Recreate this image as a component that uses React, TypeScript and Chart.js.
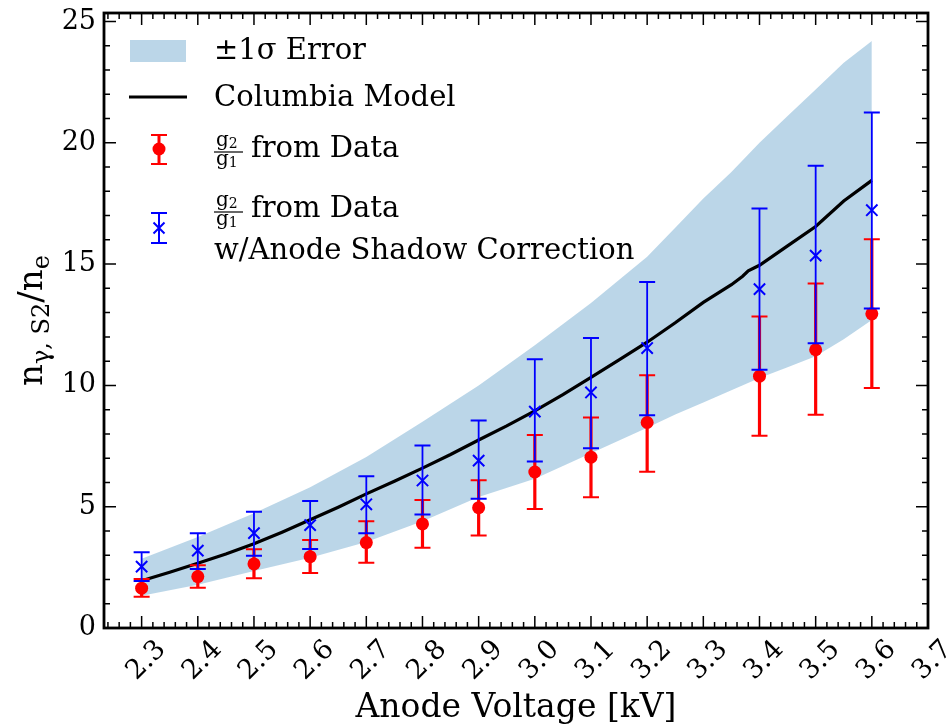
import React, { useEffect, useRef } from 'react';
import { Chart, registerables } from 'chart.js';

Chart.register(...registerables);

// ---------- data ----------
const pointX = [2.3, 2.4, 2.5, 2.6, 2.7, 2.8, 2.9, 3.0, 3.1, 3.2, 3.4, 3.5, 3.6];

const dataY = [1.64, 2.12, 2.64, 2.94, 3.52, 4.29, 4.96, 6.43, 7.04, 8.47, 10.38, 11.47, 12.95];
const dataLow = [1.29, 1.66, 2.05, 2.27, 2.69, 3.31, 3.81, 4.9, 5.39, 6.44, 7.92, 8.79, 9.89];
const dataHigh = [2.02, 2.59, 3.25, 3.63, 4.4, 5.28, 6.09, 7.96, 8.68, 10.42, 12.84, 14.2, 16.02];

const shadowY = [2.53, 3.19, 3.91, 4.24, 5.1, 6.08, 6.9, 8.92, 9.71, 11.54, 13.97, 15.35, 17.22];
const shadowLow = [1.94, 2.43, 2.98, 3.26, 3.91, 4.68, 5.33, 6.86, 7.41, 8.77, 10.64, 11.74, 13.17];
const shadowHigh = [3.12, 3.91, 4.79, 5.23, 6.26, 7.52, 8.55, 11.08, 11.95, 14.26, 17.29, 19.05, 21.25];

const modelX = [2.3, 2.35, 2.4, 2.45, 2.5, 2.55, 2.6, 2.65, 2.7, 2.75, 2.8, 2.85, 2.9, 2.95, 3.0, 3.05, 3.1, 3.15, 3.2, 3.25, 3.3, 3.35, 3.37, 3.38, 3.4, 3.45, 3.5, 3.55, 3.6];
const modelY = [1.95, 2.3, 2.67, 3.05, 3.47, 3.95, 4.46, 4.98, 5.53, 6.05, 6.59, 7.15, 7.75, 8.33, 8.95, 9.62, 10.33, 11.05, 11.78, 12.58, 13.42, 14.15, 14.5, 14.72, 14.95, 15.75, 16.55, 17.6, 18.45];

const bandX = [2.3, 2.4, 2.5, 2.6, 2.7, 2.8, 2.9, 3.0, 3.1, 3.2, 3.25, 3.3, 3.35, 3.4, 3.45, 3.5, 3.55, 3.6];
const bandUpper = [2.85, 3.75, 4.73, 5.8, 7.05, 8.5, 10.0, 11.65, 13.4, 15.3, 16.5, 17.7, 18.8, 20.0, 21.1, 22.2, 23.3, 24.2];
const bandLower = [1.33, 1.78, 2.35, 2.9, 3.55, 4.4, 5.4, 6.15, 7.2, 8.25, 8.8, 9.3, 9.8, 10.3, 10.75, 11.2, 11.9, 12.7];

const xTicks = [2.3, 2.4, 2.5, 2.6, 2.7, 2.8, 2.9, 3.0, 3.1, 3.2, 3.3, 3.4, 3.5, 3.6, 3.7];
const yTicks = [0, 5, 10, 15, 20, 25];

const xMin = 2.233;
const xMax = 3.7;
const yMin = 0;
const yMax = 25.35;

const SERIF = '"DejaVu Serif", serif';
const BAND_COLOR = 'rgba(31,119,180,0.3)';

function pts(xs: number[], ys: number[]) {
  return xs.map((x, i) => ({ x, y: ys[i] }));
}

// error bars drawn through the chart scales
const errorBarPlugin = {
  id: 'errbars',
  beforeDatasetDraw(chart: any, args: any) {
    const ds = chart.data.datasets[args.index];
    if (!ds.errLow) return;
    const { ctx, chartArea } = chart;
    const xs = chart.scales.x;
    const ys = chart.scales.y;
    ctx.save();
    ctx.beginPath();
    ctx.rect(chartArea.left, chartArea.top, chartArea.right - chartArea.left, chartArea.bottom - chartArea.top);
    ctx.clip();
    ctx.strokeStyle = ds.errColor;
    ds.data.forEach((p: any, k: number) => {
      const px = xs.getPixelForValue(p.x);
      const lo = ys.getPixelForValue(ds.errLow[k]);
      const hi = ys.getPixelForValue(ds.errHigh[k]);
      ctx.lineWidth = ds.errWidth;
      ctx.beginPath();
      ctx.moveTo(px, lo);
      ctx.lineTo(px, hi);
      ctx.stroke();
      ctx.lineWidth = ds.capThick;
      ctx.beginPath();
      ctx.moveTo(px - 8, lo);
      ctx.lineTo(px + 8, lo);
      ctx.moveTo(px - 8, hi);
      ctx.lineTo(px + 8, hi);
      ctx.stroke();
    });
    ctx.restore();
  },
};

function drawFrac(ctx: CanvasRenderingContext2D, x: number, yBar: number) {
  ctx.save();
  ctx.fillStyle = '#000';
  ctx.textBaseline = 'alphabetic';
  ctx.textAlign = 'left';
  ctx.font = `20px ${SERIF}`;
  ctx.fillText('g', x + 2, yBar - 6);
  const gw = ctx.measureText('g').width;
  ctx.fillText('g', x + 2, yBar + 13);
  ctx.font = `14px ${SERIF}`;
  ctx.fillText('2', x + 2 + gw, yBar - 4);
  ctx.fillText('1', x + 2 + gw, yBar + 15);
  ctx.strokeStyle = '#000';
  ctx.lineWidth = 1.2;
  ctx.beginPath();
  ctx.moveTo(x, yBar);
  ctx.lineTo(x + 29, yBar);
  ctx.stroke();
  ctx.restore();
}

const decorPlugin = {
  id: 'decor',
  afterDraw(chart: any) {
    const { ctx, chartArea } = chart;
    const { left, right, top, bottom } = chartArea;
    const xs = chart.scales.x;
    const ys = chart.scales.y;
    ctx.save();
    // inward ticks
    ctx.strokeStyle = '#000';
    ctx.lineWidth = 1.5;
    const majorLen = 12;
    const minorLen = 6;
    ctx.beginPath();
    for (let v = 2.24; v <= xMax + 1e-9; v += 0.02) {
      const r = Math.round(v * 100) / 100;
      const isMajor = xTicks.some((t) => Math.abs(t - r) < 1e-6);
      const len = isMajor ? majorLen : minorLen;
      const px = xs.getPixelForValue(r);
      if (px <= left + 1 || px >= right - 1) continue;
      ctx.moveTo(px, bottom);
      ctx.lineTo(px, bottom - len);
      ctx.moveTo(px, top);
      ctx.lineTo(px, top + len);
    }
    for (let v = 1; v <= 25; v += 1) {
      const isMajor = yTicks.includes(v);
      const len = isMajor ? majorLen : minorLen;
      const py = ys.getPixelForValue(v);
      ctx.moveTo(left, py);
      ctx.lineTo(left + len, py);
      ctx.moveTo(right, py);
      ctx.lineTo(right - len, py);
    }
    ctx.stroke();
    // frame
    ctx.lineWidth = 2.8;
    ctx.strokeRect(left, top, right - left, bottom - top);

    // y axis title: n_{γ, S2}/n_e
    ctx.save();
    ctx.translate(33, (top + bottom) / 2);
    ctx.rotate(-Math.PI / 2);
    ctx.fillStyle = '#000';
    ctx.textBaseline = 'alphabetic';
    ctx.textAlign = 'left';
    const big = `34px ${SERIF}`;
    const small = `24px ${SERIF}`;
    const parts: [string, string, number][] = [
      ['n', big, 0],
      ['γ, S2', small, 7],
      ['/n', big, 0],
      ['e', small, 7],
    ];
    let total = 0;
    parts.forEach(([t, f]) => {
      ctx.font = f;
      total += ctx.measureText(t).width;
    });
    let cx = -total / 2;
    parts.forEach(([t, f, dy]) => {
      ctx.font = f;
      ctx.fillText(t, cx, 9 + dy);
      cx += ctx.measureText(t).width;
    });
    ctx.restore();

    // legend
    const lf = `29px ${SERIF}`;
    ctx.font = lf;
    ctx.fillStyle = '#000';
    ctx.textBaseline = 'middle';
    ctx.textAlign = 'left';
    const tx = 214;
    // band patch
    ctx.fillStyle = BAND_COLOR;
    ctx.fillRect(130, 40, 56, 22);
    ctx.fillStyle = '#000';
    ctx.fillText('±1σ Error', tx, 51);
    // model line
    ctx.strokeStyle = '#000';
    ctx.lineWidth = 3.2;
    ctx.beginPath();
    ctx.moveTo(129, 97);
    ctx.lineTo(187, 97);
    ctx.stroke();
    ctx.fillText('Columbia Model', tx, 98);
    // red errorbar
    const mx = 159;
    ctx.strokeStyle = '#ff0000';
    ctx.lineWidth = 3;
    ctx.beginPath();
    ctx.moveTo(mx, 135);
    ctx.lineTo(mx, 164);
    ctx.stroke();
    ctx.lineWidth = 2;
    ctx.beginPath();
    ctx.moveTo(mx - 8, 135);
    ctx.lineTo(mx + 8, 135);
    ctx.moveTo(mx - 8, 164);
    ctx.lineTo(mx + 8, 164);
    ctx.stroke();
    ctx.fillStyle = '#ff0000';
    ctx.beginPath();
    ctx.arc(mx, 149, 6.5, 0, Math.PI * 2);
    ctx.fill();
    drawFrac(ctx, tx, 152);
    ctx.font = lf;
    ctx.fillStyle = '#000';
    ctx.textBaseline = 'middle';
    ctx.fillText('from Data', 251, 149);
    // blue errorbar
    ctx.strokeStyle = '#0000ff';
    ctx.lineWidth = 2;
    ctx.beginPath();
    ctx.moveTo(mx, 213);
    ctx.lineTo(mx, 243);
    ctx.moveTo(mx - 8, 213);
    ctx.lineTo(mx + 8, 213);
    ctx.moveTo(mx - 8, 243);
    ctx.lineTo(mx + 8, 243);
    ctx.moveTo(mx - 5.5, 222.5);
    ctx.lineTo(mx + 5.5, 233.5);
    ctx.moveTo(mx - 5.5, 233.5);
    ctx.lineTo(mx + 5.5, 222.5);
    ctx.stroke();
    drawFrac(ctx, tx, 212);
    ctx.font = lf;
    ctx.fillStyle = '#000';
    ctx.textBaseline = 'middle';
    ctx.fillText('from Data', 251, 209);
    ctx.fillText('w/Anode Shadow Correction', tx, 251);
    ctx.restore();
  },
};

export default function App() {
  const canvasRef = useRef<HTMLCanvasElement | null>(null);

  useEffect(() => {
    const canvas = canvasRef.current;
    if (!canvas) return;
    // datasets listed top-most first (Chart.js draws index 0 last)
    const chart = new Chart(canvas, {
      type: 'scatter',
      data: {
        datasets: [
          {
            label: 'g2/g1 from Data w/Anode Shadow Correction',
            data: pts(pointX, shadowY),
            pointStyle: 'crossRot',
            pointRadius: 8,
            pointBorderWidth: 2,
            pointBorderColor: '#0000ff',
            pointBackgroundColor: '#0000ff',
            errLow: shadowLow,
            errHigh: shadowHigh,
            errColor: '#0000ff',
            errWidth: 1.8,
            capThick: 2,
          } as any,
          {
            label: 'g2/g1 from Data',
            data: pts(pointX, dataY),
            pointRadius: 6.5,
            pointBackgroundColor: '#ff0000',
            pointBorderWidth: 0,
            pointBorderColor: '#ff0000',
            errLow: dataLow,
            errHigh: dataHigh,
            errColor: '#ff0000',
            errWidth: 3.2,
            capThick: 2,
          } as any,
          {
            type: 'line',
            label: 'Columbia Model',
            data: pts(modelX, modelY),
            borderColor: '#000',
            borderWidth: 3.2,
            pointRadius: 0,
            fill: false,
            tension: 0,
          } as any,
          {
            type: 'line',
            label: '±1σ Error',
            data: pts(bandX, bandUpper),
            borderWidth: 0,
            borderColor: 'rgba(0,0,0,0)',
            backgroundColor: BAND_COLOR,
            pointRadius: 0,
            fill: '+1',
            tension: 0,
          } as any,
          {
            type: 'line',
            label: 'band lower',
            data: pts(bandX, bandLower),
            borderWidth: 0,
            borderColor: 'rgba(0,0,0,0)',
            pointRadius: 0,
            fill: false,
            tension: 0,
          } as any,
        ],
      },
      options: {
        animation: false,
        responsive: false,
        devicePixelRatio: 1,
        layout: { padding: { top: 13, right: 20, left: 0, bottom: 0 } },
        plugins: {
          legend: { display: false },
          tooltip: { enabled: false },
        },
        scales: {
          x: {
            type: 'linear',
            min: xMin,
            max: xMax,
            afterBuildTicks: (scale: any) => {
              scale.ticks = xTicks.map((v) => ({ value: v }));
            },
            afterFit: (scale: any) => {
              scale.height = 97;
              scale.paddingLeft = 0;
              scale.paddingRight = 0;
              scale.paddingTop = 0;
              scale.paddingBottom = 0;
            },
            grid: { display: false, drawTicks: false },
            border: { display: false },
            ticks: {
              autoSkip: false,
              minRotation: 45,
              maxRotation: 45,
              padding: 6,
              labelOffset: 20,
              color: '#000',
              font: { family: SERIF, size: 27 },
              callback: (v: any) => Number(v).toFixed(1),
            },
            title: {
              display: true,
              text: 'Anode Voltage [kV]',
              color: '#000',
              font: { family: SERIF, size: 33 },
              padding: { top: 0, bottom: -3 },
            },
          },
          y: {
            type: 'linear',
            min: yMin,
            max: yMax,
            afterBuildTicks: (scale: any) => {
              scale.ticks = yTicks.map((v) => ({ value: v }));
            },
            afterFit: (scale: any) => {
              scale.width = 104;
              scale.paddingTop = 0;
              scale.paddingBottom = 0;
              scale.paddingLeft = 0;
              scale.paddingRight = 0;
            },
            grid: { display: false, drawTicks: false },
            border: { display: false },
            ticks: {
              padding: 8,
              color: '#000',
              font: { family: SERIF, size: 27 },
              callback: (v: any) => String(v),
            },
          },
        },
      } as any,
      plugins: [errorBarPlugin, decorPlugin],
    });
    return () => chart.destroy();
  }, []);

  return (
    <div style={{ position: 'fixed', left: 0, top: 0, width: 948, height: 725, background: '#fff' }}>
      <canvas ref={canvasRef} width={948} height={725} />
    </div>
  );
}
